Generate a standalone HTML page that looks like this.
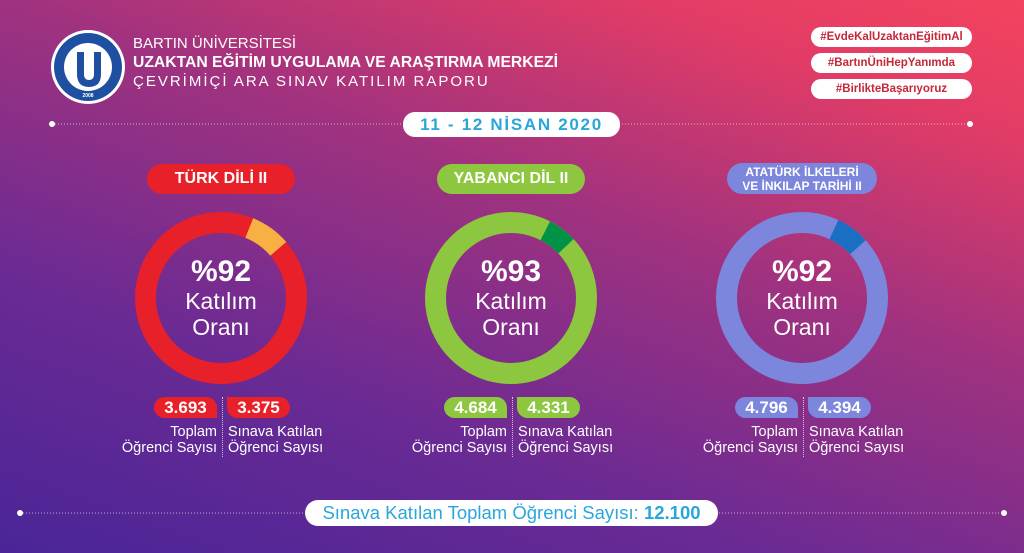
<!DOCTYPE html>
<html><head><meta charset="utf-8"><style>
*{margin:0;padding:0;box-sizing:border-box}
body{width:1024px;height:553px;overflow:hidden;font-family:"Liberation Sans","DejaVu Sans",sans-serif;position:relative;
background:linear-gradient(20deg,#4a2597 0%,#6a2a94 30%,#a0327f 60%,#e23c66 85%,#f4435e 100%);}
.abs{position:absolute}
.pill{position:absolute;background:#fff;border-radius:12px;text-align:center;font-weight:bold;white-space:nowrap}
.tag{left:811px;width:161px;height:20px;line-height:20px;font-size:11.5px;color:#c4283a;border-radius:10px}
.title{position:absolute;color:#fff;font-weight:bold;text-align:center;border-radius:16px;white-space:nowrap}
.c{position:absolute;text-align:center;color:#fff;width:172px}
.big{font-size:30px;font-weight:bold;line-height:32px}
.lbl{font-size:23px;line-height:26px}
.num{position:absolute;height:21px;line-height:21px;color:#fff;font-weight:bold;font-size:17px;text-align:center;width:63px}
.sm{position:absolute;color:#fff;font-size:14.5px;line-height:16px;white-space:nowrap}
.div{position:absolute;border-left:1px dotted rgba(255,255,255,.7);height:60px}
</style></head><body>
<svg class="abs" style="left:0;top:0" width="1024" height="553">
<line x1="52" y1="124" x2="970" y2="124" stroke="rgba(255,255,255,.6)" stroke-dasharray="1 2"/>
<circle cx="52" cy="124" r="3" fill="#fff"/><circle cx="970" cy="124" r="3" fill="#fff"/>
<line x1="20" y1="513" x2="1004" y2="513" stroke="rgba(255,255,255,.6)" stroke-dasharray="1 2"/>
<circle cx="20" cy="513" r="3" fill="#fff"/><circle cx="1004" cy="513" r="3" fill="#fff"/>
<circle cx="88" cy="67" r="37" fill="#fff"/>
<circle cx="88" cy="67" r="34" fill="#1f4fa0"/>
<circle cx="88" cy="67" r="24" fill="#fff"/>
<path d="M77 52 h7 v22 q0 6 5 6 q5 0 5 -6 v-22 h7 v22 q0 13 -12 13 q-12 0 -12 -13z" fill="#1f4fa0"/>
<text x="88" y="97" font-size="5" fill="#fff" text-anchor="middle" font-weight="bold">2008</text>
<g transform="translate(221,298)"><circle r="75.5" fill="none" stroke="#e8202a" stroke-width="21"/>
<circle r="75.5" fill="none" stroke="#f9b043" stroke-width="21" stroke-dasharray="36 1000" transform="rotate(-68)"/></g>
<g transform="translate(511,298)"><circle r="75.5" fill="none" stroke="#8dc63f" stroke-width="21"/>
<circle r="75.5" fill="none" stroke="#009245" stroke-width="21" stroke-dasharray="26 1000" transform="rotate(-63)"/></g>
<g transform="translate(802,298)"><circle r="75.5" fill="none" stroke="#7b86dc" stroke-width="21"/>
<circle r="75.5" fill="none" stroke="#1b6fc2" stroke-width="21" stroke-dasharray="30 1000" transform="rotate(-65)"/></g>
</svg>
<div class="abs" style="left:133px;top:34px;color:#fff;font-size:15px;line-height:19px;white-space:nowrap">BARTIN ÜNİVERSİTESİ<br><b style="font-size:15.7px">UZAKTAN EĞİTİM UYGULAMA VE ARAŞTIRMA MERKEZİ</b><br><span style="font-size:15px;letter-spacing:2px">ÇEVRİMİÇİ ARA SINAV KATILIM RAPORU</span></div>
<div class="pill tag" style="top:27px">#EvdeKalUzaktanEğitimAl</div>
<div class="pill tag" style="top:53px">#BartınÜniHepYanımda</div>
<div class="pill tag" style="top:79px">#BirlikteBaşarıyoruz</div>
<div class="pill" style="left:403px;top:112px;width:217px;height:25px;line-height:25px;color:#2aa6dc;font-size:17px;letter-spacing:1.7px">11 - 12 NİSAN 2020</div>

<div class="title" style="left:147px;top:164px;width:148px;height:30px;line-height:30px;background:#e8202a;font-size:16px">TÜRK DİLİ II</div>
<div class="title" style="left:437px;top:164px;width:148px;height:30px;line-height:30px;background:#8dc63f;font-size:16px">YABANCI DİL II</div>
<div class="title" style="left:727px;top:163px;width:150px;height:31px;background:#7b86dc;font-size:12px;line-height:14px;padding-top:2px">ATATÜRK İLKELERİ<br>VE İNKILAP TARİHİ II</div>

<div class="c" style="left:135px;top:256px"><div class="big">%92</div><div class="lbl">Katılım<br>Oranı</div></div>
<div class="c" style="left:425px;top:256px"><div class="big">%93</div><div class="lbl">Katılım<br>Oranı</div></div>
<div class="c" style="left:716px;top:256px"><div class="big">%92</div><div class="lbl">Katılım<br>Oranı</div></div>

<div class="num" style="left:154px;top:397px;background:#e8202a;border-radius:11px 11px 0 11px">3.693</div>
<div class="num" style="left:227px;top:397px;background:#e8202a;border-radius:0 11px 11px 11px">3.375</div>
<div class="num" style="left:444px;top:397px;background:#8dc63f;border-radius:11px 11px 0 11px">4.684</div>
<div class="num" style="left:517px;top:397px;background:#8dc63f;border-radius:0 11px 11px 11px">4.331</div>
<div class="num" style="left:735px;top:397px;background:#7b86dc;border-radius:11px 11px 0 11px">4.796</div>
<div class="num" style="left:808px;top:397px;background:#7b86dc;border-radius:0 11px 11px 11px">4.394</div>

<div class="div" style="left:222px;top:397px"></div>
<div class="div" style="left:512px;top:397px"></div>
<div class="div" style="left:803px;top:397px"></div>
<div class="sm" style="right:807px;top:424px;text-align:right">Toplam<br>Öğrenci Sayısı</div>
<div class="sm" style="left:228px;top:424px">Sınava Katılan<br>Öğrenci Sayısı</div>
<div class="sm" style="right:517px;top:424px;text-align:right">Toplam<br>Öğrenci Sayısı</div>
<div class="sm" style="left:518px;top:424px">Sınava Katılan<br>Öğrenci Sayısı</div>
<div class="sm" style="right:226px;top:424px;text-align:right">Toplam<br>Öğrenci Sayısı</div>
<div class="sm" style="left:809px;top:424px">Sınava Katılan<br>Öğrenci Sayısı</div>

<div class="pill" style="left:305px;top:500px;width:413px;height:26px;line-height:26px;color:#2aa6dc;font-size:18.5px;font-weight:normal;border-radius:13px">Sınava Katılan Toplam Öğrenci Sayısı: <b>12.100</b></div>
</body></html>
